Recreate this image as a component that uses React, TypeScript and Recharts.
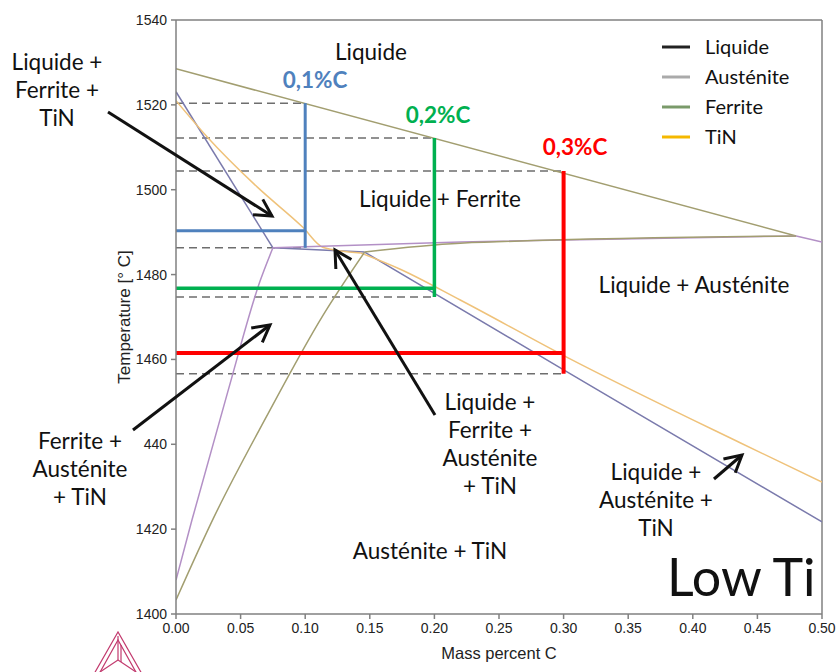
import { LineChart, Line, XAxis, YAxis, ReferenceLine } from 'recharts';

// axes
const xTicks = [0, 0.05, 0.1, 0.15, 0.2, 0.25, 0.3, 0.35, 0.4, 0.45, 0.5];
const yTicks = [1400, 1420, 1440, 1460, 1480, 1500, 1520, 1540];
const yTickLabels = ['1400', '1420', '440', '1460', '1480', '1500', '1520', '1540'];

// phase boundaries, [mass % C, temperature]
const ferriteLiquidus = [[0, 1528.5], [0.48, 1489.1]];
const liquidusTail = [[0.48, 1489.1], [0.5, 1487.7]];
const ferriteSolidus = [[0, 1523.1], [0.075, 1486.3]];
const peritecticLine = [[0.075, 1486.3], [0.146, 1485.3]];
const austeniteLiquidus = [[0.146, 1485.3], [0.303, 1457.0], [0.5, 1421.7]];
const tinUpper = [[0, 1521], [0.024, 1512.5], [0.063, 1500.6], [0.098, 1491.2], [0.114, 1486.4], [0.143, 1485.1]];
const tinLower = [[0.143, 1485.1], [0.174, 1481.2], [0.22, 1474.0], [0.302, 1460.6], [0.437, 1440.3], [0.5, 1431.1]];
const ferriteAusteniteLow = [[0, 1408], [0.0124, 1422.2], [0.04, 1452.3], [0.065, 1478.4], [0.075, 1486.3]];
const ferriteAusteniteHigh = [[0.075, 1486.3], [0.22, 1487.7], [0.48, 1489.1]];
const austeniteSolvusLow = [[0, 1403.3], [0.029, 1422.6], [0.07, 1446.5], [0.114, 1470.5], [0.146, 1485.3]];
const austeniteSolvusHigh = [[0.146, 1485.3], [0.22, 1487.4], [0.48, 1489.1]];

// dashed reading lines (from x = 0 to c)
const dashC = [0.1, 0.2, 0.3, 0.1, 0.2, 0.3];
const dashT = [1520.4, 1512.2, 1504.4, 1486.3, 1474.7, 1456.6];

// cooling cases
const caseC = [0.1, 0.2, 0.3];
const caseTop = [1520.4, 1512.2, 1504.4];
const caseBottom = [1486.3, 1474.7, 1456.6];
const caseHold = [1490.3, 1476.8, 1461.5];
const caseLabels = ['0,1%C', '0,2%C', '0,3%C'];

const legendNames = ['Liquide', 'Austénite', 'Ferrite', 'TiN'];

const caseColors = ['#4f81bd', '#00b050', '#ff0000'];
const caseWidths = [3, 3.5, 4];
const legendColors = ['#222222', '#aaaaaa', '#7a9a6a', '#f5b800'];

const OLIVE = '#a29e70';
const PURPLE = '#b390c6';
const BLUE = '#7a7aac';
const ORANGE = '#efc27a';

const pts = (a: number[][]) => a.map(([c, t]) => ({ c, t }));

const FONT = 'Lato, "Open Sans", sans-serif';
const AXIS_FONT = '"Liberation Sans", Arial, sans-serif';

function seg(key: string, data: number[][], stroke: string, width: number, dash?: string, curve = false) {
  return (
    <Line
      key={key}
      data={pts(data)}
      dataKey="t"
      type={curve ? 'monotone' : 'linear'}
      stroke={stroke}
      strokeWidth={width}
      strokeDasharray={dash}
      dot={false}
      activeDot={false}
      isAnimationActive={false}
    />
  );
}

function Label({ x, y, lines, size = 22.5, color = '#111', weight = 400 }: { x: number; y: number; lines: string[]; size?: number; color?: string; weight?: number }) {
  return (
    <text x={x} y={y} fill={color} fontSize={size} fontWeight={weight} fontFamily={FONT} textAnchor="middle">
      {lines.map((l, i) => (
        <tspan key={i} x={x} dy={i === 0 ? '0.35em' : 28}>{l}</tspan>
      ))}
    </text>
  );
}

function Arrow({ x1, y1, x2, y2 }: { x1: number; y1: number; x2: number; y2: number }) {
  const a = Math.atan2(y2 - y1, x2 - x1);
  const h = 19, w = 0.5;
  const p1 = [x2 - h * Math.cos(a - w), y2 - h * Math.sin(a - w)];
  const p2 = [x2 - h * Math.cos(a + w), y2 - h * Math.sin(a + w)];
  return (
    <g stroke="#111" strokeWidth={3} fill="none">
      <line x1={x1} y1={y1} x2={x2} y2={y2} />
      <polyline points={`${p1[0]},${p1[1]} ${x2},${y2} ${p2[0]},${p2[1]}`} />
    </g>
  );
}

export default function App() {
  return (
    <div style={{ position: 'absolute', left: 0, top: 0, width: 836, height: 672, background: '#fff' }}>
      <LineChart width={836} height={672} margin={{ top: 20, right: 14, bottom: 0, left: 116 }}>
        <XAxis
          dataKey="c"
          type="number"
          domain={[0, 0.5]}
          ticks={xTicks}
          tickFormatter={(v: number) => v.toFixed(2)}
          tick={{ fontSize: 14, fill: '#222', fontFamily: AXIS_FONT }}
          stroke="#808080"
          strokeWidth={1.5}
          tickSize={5}
          tickMargin={4}
          height={58}
          allowDataOverflow
          label={{ value: 'Mass percent C', position: 'insideBottom', offset: 13, fill: '#222', fontSize: 16.5, fontFamily: AXIS_FONT }}
        />
        <YAxis
          type="number"
          domain={[1400, 1540]}
          ticks={yTicks}
          tickFormatter={(v: number) => yTickLabels[yTicks.indexOf(v)]}
          tick={{ fontSize: 14, fill: '#222', fontFamily: AXIS_FONT }}
          stroke="#808080"
          strokeWidth={1.5}
          tickSize={5}
          tickMargin={4}
          width={60}
          allowDataOverflow
          label={{
            value: 'Temperature [° C]', angle: -90, position: 'insideLeft', offset: 8,
            fill: '#222', fontSize: 17, fontFamily: AXIS_FONT, style: { textAnchor: 'middle' },
          }}
        />
        <ReferenceLine y={1540} stroke="#808080" strokeWidth={1.5} />
        <ReferenceLine x={0.5} stroke="#808080" strokeWidth={1.5} />

        {dashC.map((c, i) => seg(`d${i}`, [[0, dashT[i]], [c, dashT[i]]], '#6e6e6e', 1.5, '8 5'))}

        {seg('fl', ferriteLiquidus, OLIVE, 1.5)}
        {seg('lt', liquidusTail, PURPLE, 1.5)}
        {seg('fs', ferriteSolidus, BLUE, 1.5)}
        {seg('pl', peritecticLine, BLUE, 1.5)}
        {seg('al', austeniteLiquidus, BLUE, 1.5)}
        {seg('tu', tinUpper, ORANGE, 1.5, undefined, true)}
        {seg('tl', tinLower, ORANGE, 1.5, undefined, true)}
        {seg('fal', ferriteAusteniteLow, PURPLE, 1.5, undefined, true)}
        {seg('fah', ferriteAusteniteHigh, PURPLE, 1.5, undefined, true)}
        {seg('asl', austeniteSolvusLow, OLIVE, 1.5, undefined, true)}
        {seg('ash', austeniteSolvusHigh, OLIVE, 1.5, undefined, true)}

        {caseC.map((c, i) => seg(`h${i}`, [[0, caseHold[i]], [c, caseHold[i]]], caseColors[i], caseWidths[i]))}
        {caseC.map((c, i) => seg(`v${i}`, [[c, caseTop[i]], [c, caseBottom[i]]], caseColors[i], caseWidths[i]))}
      </LineChart>

      <svg width={836} height={672} style={{ position: 'absolute', left: 0, top: 0, pointerEvents: 'none' }}>
        {/* case labels */}
        <Label x={315} y={80} lines={[caseLabels[0]]} color={caseColors[0]} weight={700} />
        <Label x={438} y={115} lines={[caseLabels[1]]} color={caseColors[1]} weight={700} />
        <Label x={575} y={147} lines={[caseLabels[2]]} color={caseColors[2]} weight={700} />

        {/* phase regions */}
        <Label x={371} y={52} lines={['Liquide']} />
        <Label x={440} y={199} lines={['Liquide + Ferrite']} />
        <Label x={694} y={285} lines={['Liquide + Austénite']} />
        <Label x={430} y={551} lines={['Austénite + TiN']} />
        <text x={667} y={596} fontSize={52} fontFamily={FONT} fill="#111">Low Ti</text>

        {/* callouts */}
        <Label x={57} y={62} lines={['Liquide +', 'Ferrite +', 'TiN']} />
        <Label x={80} y={441} lines={['Ferrite +', 'Austénite', '+ TiN']} />
        <Label x={490} y={402} lines={['Liquide +', 'Ferrite +', 'Austénite', '+ TiN']} />
        <Label x={656} y={472} lines={['Liquide +', 'Austénite +', 'TiN']} />

        <Arrow x1={108} y1={112} x2={272} y2={216} />
        <Arrow x1={133} y1={430} x2={270} y2={325} />
        <Arrow x1={435} y1={415} x2={335} y2={250} />
        <Arrow x1={714} y1={479} x2={742} y2={455} />

        {/* legend */}
        {legendNames.map((n, i) => (
          <g key={n}>
            <line x1={662} x2={690} y1={47 + i * 30} y2={47 + i * 30} stroke={legendColors[i]} strokeWidth={3} />
            <text x={705} y={47 + i * 30} dy="0.35em" fontSize={20} fontFamily={FONT} fill="#111">{n}</text>
          </g>
        ))}

        {/* logo */}
        <g stroke="#c23a6e" strokeWidth={1.2} fill="none">
          <polyline points="94,674 118,632 142,674" />
          <polyline points="99,674 118,640 137,674" />
          <line x1={118} y1={636} x2={118} y2={660} />
          <line x1={118} y1={660} x2={100} y2={672} />
          <line x1={118} y1={660} x2={136} y2={672} />
          <line x1={121} y1={645} x2={121} y2={662} />
        </g>
      </svg>
    </div>
  );
}
